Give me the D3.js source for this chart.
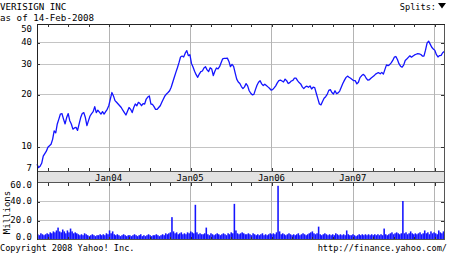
<!DOCTYPE html>
<html>
<head>
<meta charset="utf-8">
<script src="https://cdn.jsdelivr.net/npm/d3@7"></script>
<style>
  body { margin: 0; background: #fff; }
  svg text { font-family: "DejaVu Sans Mono", "Liberation Mono", monospace; fill: #000; }
</style>
</head>
<body>
<svg id="chart" width="450" height="253"></svg>
<script>
/* data: weekly closes and volumes (millions) */
const startDate = "2003-02-14";
const endDate = "2008-02-14";

const closes = [
  7.9, 7.55, 7.7, 8.0, 8.8, 9.1, 9.4, 9.9, 10.1, 10.3,
  11.0, 12.3, 12.0, 13.5, 14.4, 15.4, 15.5, 14.4, 13.5, 14.7,
  15.5, 14.1, 13.5, 12.6, 12.8, 12.9, 12.4, 13.5, 14.7, 15.5,
  15.7, 14.7, 13.2, 14.1, 15.0, 15.5, 15.9, 17.0, 15.7, 16.2,
  15.8, 15.4, 15.9, 15.4, 15.9, 16.4, 17.2, 18.8, 20.5, 19.6,
  18.4, 18.0, 17.6, 17.2, 16.8, 16.2, 15.7, 15.2, 16.0, 16.8,
  16.4, 15.7, 16.8, 17.6, 17.2, 18.0, 17.7, 17.2, 17.7, 17.6,
  18.8, 19.3, 19.6, 17.6, 17.5, 17.0, 16.4, 16.4, 16.8, 17.2,
  18.0, 18.8, 19.6, 20.1, 20.5, 21.0, 22.0, 23.5, 25.1, 26.8,
  28.5, 30.5, 32.9, 33.3, 32.9, 34.6, 35.8, 33.5, 33.9, 30.2,
  28.8, 27.2, 26.0, 25.1, 26.2, 27.1, 27.3, 28.4, 28.9, 27.7,
  27.1, 28.5, 28.0, 25.7, 27.2, 28.4, 28.1, 28.9, 30.5, 32.1,
  32.3, 32.3, 32.4, 31.0, 28.9, 29.8, 29.0, 26.6, 24.5, 23.6,
  23.1, 22.2, 21.6, 22.1, 23.1, 22.4, 21.0, 20.3, 19.9, 20.0,
  21.3, 22.6, 23.5, 24.0, 23.0, 22.5, 22.9, 22.5, 22.1, 21.7,
  21.2, 21.3, 21.8, 22.4, 23.3, 24.0, 24.2, 23.9, 23.6, 24.5,
  24.0, 23.1, 23.4, 23.9, 24.1, 24.8, 24.8, 24.0, 23.4, 23.0,
  22.1, 21.6, 22.1, 22.3, 22.0, 22.4, 21.5, 22.0, 21.9, 20.3,
  18.9, 17.6, 17.4, 18.2, 19.0, 19.4, 20.0, 21.1, 21.3, 20.5,
  20.1, 21.0, 20.2, 20.4, 20.9, 22.0, 23.1, 24.1, 25.0, 25.5,
  25.1, 24.8, 24.4, 24.0, 24.0, 23.0, 23.5, 25.0, 25.6, 26.1,
  25.7, 24.8, 24.2, 24.3, 24.8, 25.2, 25.6, 26.2, 26.5, 26.7,
  26.3, 26.8, 26.2, 27.9, 29.6, 29.3, 29.7, 30.4, 31.4, 32.8,
  33.1, 31.8, 30.1, 29.1, 28.7, 29.5, 31.4, 32.0, 32.7, 33.4,
  32.8, 33.3, 33.8, 34.1, 34.4, 34.3, 34.0, 33.3, 33.3, 36.0,
  39.5, 40.6, 39.0, 37.4, 36.6, 35.9, 33.9, 32.9, 33.5, 33.6,
  34.8, 35.4
];

const volumes = [
  5, 4, 6, 5, 4, 5, 6, 5, 7, 6,
  8, 7, 9, 12, 8, 7, 10, 8, 6, 9, 7, 11, 8, 6, 7, 6,
  5, 4, 5, 4, 6, 5, 4, 3, 4, 5, 4, 3, 4, 4, 5, 4, 5, 4, 6, 5,
  9, 6, 8, 5, 4, 5, 4, 3, 4, 5, 4, 3, 4, 4, 3,
  4, 5, 4, 3, 4, 5, 3, 4, 3, 4, 5, 4, 3, 4, 4, 5, 4, 3, 4, 5, 4, 6, 5, 6, 7,
  23, 8, 6, 7, 5, 6, 7, 5, 6, 5, 7, 6, 8, 7,
  6, 36, 7, 5, 6, 5,
  5, 6, 12, 5, 4, 6, 5, 4, 5, 6, 5, 4, 5, 6, 5, 4, 6, 5, 7, 6,
  37,
  9, 6, 5, 6, 7, 6, 5, 5, 6, 5, 4, 6, 5, 4, 5, 4, 5, 6, 4, 5, 4, 5, 6, 5, 6, 5, 7,
  56,
  8, 5, 6, 5, 4, 5, 6, 5, 4, 5, 4, 5, 6, 4, 5, 6, 5, 4, 5, 6, 7, 8, 6, 5, 6, 13,
  5, 4, 5, 6, 5, 4, 5, 4, 5, 4, 6, 5, 4, 5, 4, 5, 4, 9, 5, 4,
  4, 5, 4, 3, 4, 5, 4, 5, 4, 5, 4, 5, 4, 5, 4, 5, 4, 5, 4, 5, 4, 11, 5, 4, 5, 6, 7, 5, 6, 7, 6, 5, 6,
  40,
  6, 7, 5, 6, 8, 6, 5, 6, 5, 6, 7, 5, 6, 9, 6, 7, 5, 8, 6, 7, 6, 5, 9, 7, 6, 8, 7
];

const priceTicks = [7, 10, 20, 30, 40, 50];
const priceGrid = [10, 20, 30, 40];
const volumeTicks = [0, 20, 40, 60];
const volumeGrid = [20, 40];
const yearTicks = ["2004-01-01", "2005-01-01", "2006-01-01", "2007-01-01", "2008-01-01"];
const yearLabels = ["Jan04", "Jan05", "Jan06", "Jan07"];

// 패널 위치
const L = 37, R = 444, T = 24, M1 = 171, M2 = 182, B = 239;
const lineColor = '#1414ff';
const gridColor = '#c4c4c4';
const frameColor = '#555';

const parse = d3.utcParse("%Y-%m-%d");
const start = parse(startDate);
const data = closes.map((c, i) => ({
  date: d3.utcDay.offset(start, i * 7),
  close: c,
  volume: volumes[i]
}));

const svg = d3.select('#chart');

const x = d3.scaleUtc()
  .domain([start, parse(endDate)])
  .range([L, R]);

const y = d3.scaleLog()
  .domain([7.22, 51])
  .range([M1, T]);

const yv = d3.scaleLinear()
  .domain([0, 60])
  .range([B, M2]);

const years = yearTicks.map(parse);
const quarters = d3.utcMonth.every(3).range(x.domain()[0], x.domain()[1]);

// 배경 격자
const grid = svg.append('g').attr('shape-rendering', 'crispEdges');
grid.selectAll('.hp').data(priceGrid).join('line')
  .attr('x1', L).attr('x2', R)
  .attr('y1', d => Math.round(y(d)) + 0.5).attr('y2', d => Math.round(y(d)) + 0.5)
  .attr('stroke', gridColor);
grid.selectAll('.hv').data(volumeGrid).join('line')
  .attr('x1', L).attr('x2', R)
  .attr('y1', d => Math.round(yv(d)) + 0.5).attr('y2', d => Math.round(yv(d)) + 0.5)
  .attr('stroke', gridColor);
[[T, M1], [M2, B]].forEach(([a, b]) => {
  grid.append('g').selectAll('line').data(years).join('line')
    .attr('x1', d => Math.round(x(d)) + 0.5).attr('x2', d => Math.round(x(d)) + 0.5)
    .attr('y1', a).attr('y2', b)
    .attr('stroke', '#b4b4b4')
    .attr('stroke-width', 1.5);
});

// 거래량 막대
svg.append('g')
  .selectAll('rect')
  .data(data)
  .join('rect')
  .attr('x', d => x(d.date))
  .attr('width', d => Math.max(0, Math.min(R, x(d3.utcDay.offset(d.date, 7))) - x(d.date)))
  .attr('y', d => yv(d.volume))
  .attr('height', d => B - yv(d.volume))
  .attr('fill', lineColor);

// 주가 선
svg.append('path')
  .datum(data)
  .attr('fill', 'none')
  .attr('stroke', lineColor)
  .attr('stroke-width', 1.3)
  .attr('stroke-linejoin', 'round')
  .attr('d', d3.line().x(d => x(d.date)).y(d => y(d.close)));

// 날짜 막대
svg.append('rect')
  .attr('x', L + 0.5).attr('y', M1 + 0.5)
  .attr('width', R - L).attr('height', M2 - M1)
  .attr('fill', '#e2e2e2')
  .attr('stroke', frameColor)
  .attr('shape-rendering', 'crispEdges');

// 테두리
const frame = svg.append('g').attr('fill', 'none').attr('stroke', frameColor).attr('shape-rendering', 'crispEdges');
frame.append('rect').attr('x', L + 0.5).attr('y', T + 0.5).attr('width', R - L).attr('height', M1 - T);
frame.append('rect').attr('x', L + 0.5).attr('y', M2 + 0.5).attr('width', R - L).attr('height', B - M2);
frame.append('line').attr('x1', L).attr('x2', R + 1).attr('y1', T + 0.5).attr('y2', T + 0.5).attr('stroke', '#222').attr('stroke-width', 1.5);
frame.append('line').attr('x1', L + 0.5).attr('x2', L + 0.5).attr('y1', T).attr('y2', B + 1).attr('stroke', '#222');

// 눈금
const tickAxis = (axis, tx, ty) => svg.append('g')
  .attr('transform', `translate(${tx},${ty})`)
  .call(axis.tickSizeOuter(0).tickFormat(''))
  .call(g => g.select('.domain').remove())
  .call(g => g.selectAll('.tick line').attr('stroke', '#333').attr('shape-rendering', 'crispEdges'));

tickAxis(d3.axisBottom(x).tickValues(quarters).tickSize(3), 0.5, T);
tickAxis(d3.axisTop(x).tickValues(quarters).tickSize(3), 0.5, M1);
tickAxis(d3.axisBottom(x).tickValues(quarters).tickSize(3), 0.5, M2 + 1);
tickAxis(d3.axisTop(x).tickValues(quarters).tickSize(2), 0.5, B);
tickAxis(d3.axisRight(y).tickValues(priceGrid).tickSize(3), L, 0.5);
tickAxis(d3.axisLeft(y).tickValues(priceGrid).tickSize(3), R, 0.5);
tickAxis(d3.axisRight(yv).tickValues(volumeGrid).tickSize(3), L, 0.5);
tickAxis(d3.axisLeft(yv).tickValues(volumeGrid).tickSize(3), R, 0.5);

// 왼쪽 눈금 글자
const clamp = (v, lo, hi) => Math.max(lo, Math.min(hi, v));
svg.append('g')
  .attr('transform', `translate(${L - 2},0)`)
  .call(d3.axisLeft(y).tickValues(priceTicks).tickSize(0).tickFormat(d3.format('d')))
  .call(g => g.select('.domain').remove())
  .call(g => g.selectAll('.tick').attr('transform', d => `translate(0,${clamp(y(d), 29, 168)})`))
  .call(g => g.selectAll('text').attr('font-size', '9px').attr('font-family', null).attr('fill', '#000'));

svg.append('g')
  .attr('transform', `translate(${L - 2},0)`)
  .call(d3.axisLeft(yv).tickValues(volumeTicks).tickSize(0).tickFormat(d3.format('.1f')))
  .call(g => g.select('.domain').remove())
  .call(g => g.selectAll('.tick').attr('transform', d => `translate(0,${clamp(yv(d), 185, 237)})`))
  .call(g => g.selectAll('text').attr('font-size', '9px').attr('font-family', null).attr('fill', '#000'));

// 연도 글자
svg.append('g')
  .selectAll('text')
  .data(yearLabels)
  .join('text')
  .attr('x', (d, i) => x(years[i]))
  .attr('y', (M1 + M2) / 2 + 1)
  .attr('dy', '0.35em')
  .attr('text-anchor', 'middle')
  .attr('font-size', '9px')
  .text(d => d);

// 제목 및 기타 글자
svg.append('text').attr('x', 0).attr('y', 9.5).attr('font-size', '9.2px').text('VERISIGN INC');
svg.append('text').attr('x', 0).attr('y', 20.5).attr('font-size', '9.2px').text('as of 14-Feb-2008');
svg.append('text').attr('x', 436).attr('y', 9.5).attr('font-size', '8.6px').attr('text-anchor', 'end').text('Splits:');
svg.append('path').attr('d', 'M438,3 L446,3 L442,8.5 Z').attr('fill', '#000');
svg.append('text')
  .attr('transform', `translate(9.5,${(M2 + B) / 2 + 2}) rotate(-90)`)
  .attr('text-anchor', 'middle')
  .attr('font-size', '9px')
  .text('Millions');
svg.append('text').attr('x', 0).attr('y', 250.5).attr('font-size', '8.6px').text('Copyright 2008 Yahoo! Inc.');
svg.append('text').attr('x', 447).attr('y', 250.5).attr('font-size', '8.6px').attr('text-anchor', 'end').text('http://finance.yahoo.com/');
</script>
</body>
</html>
